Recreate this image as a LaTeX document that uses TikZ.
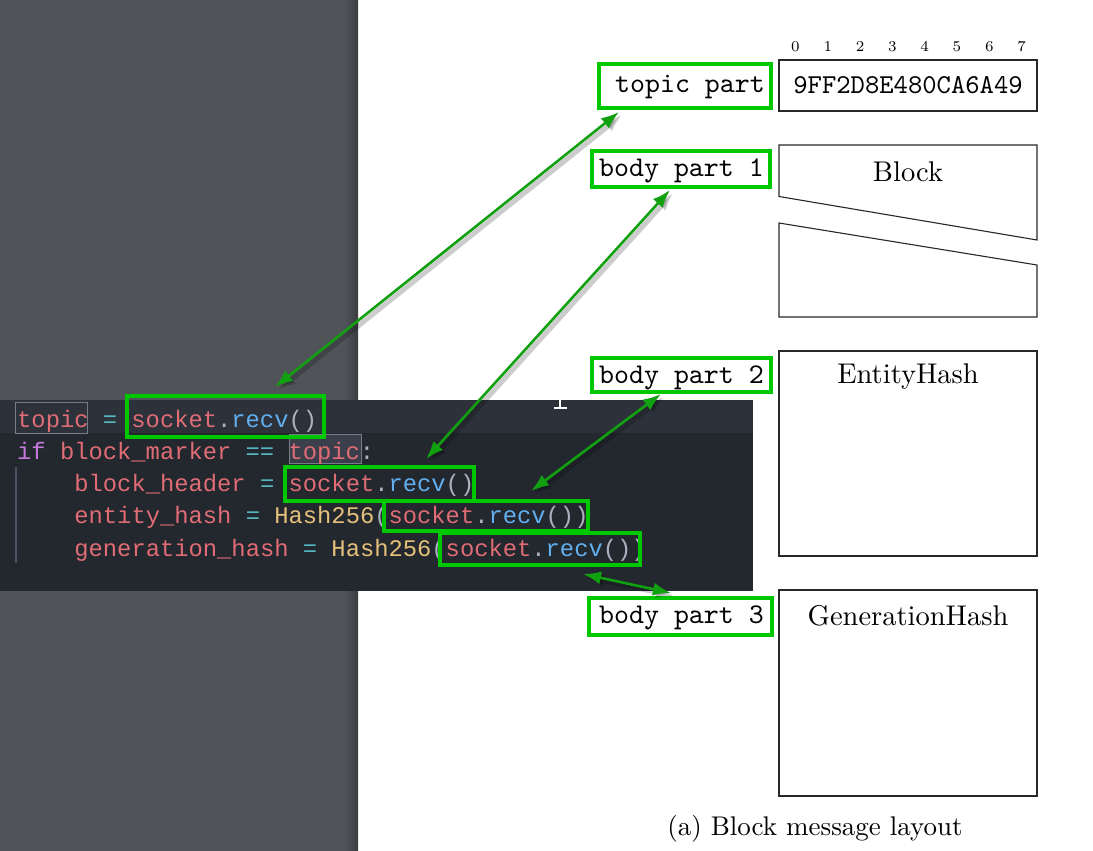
\documentclass[tikz,border=0pt]{standalone}
\usepackage{fontspec}
\newfontfamily\codefont{Liberation Mono}
\newfontfamily\tenrm{lmroman10-regular}[Extension=.otf]
\newfontfamily\sevenrm{lmroman7-regular}[Extension=.otf]
\newfontfamily\tentt{lmmono10-regular}[Extension=.otf]
\usetikzlibrary{arrows.meta,calc}
\definecolor{sidebar}{RGB}{80,84,88}
\definecolor{sidebardark}{RGB}{56,59,63}
\definecolor{edbg}{RGB}{35,39,46}
\definecolor{edline}{RGB}{45,49,58}
\definecolor{cred}{RGB}{224,108,117}
\definecolor{ccyan}{RGB}{86,182,194}
\definecolor{cblue}{RGB}{97,175,239}
\definecolor{cpurple}{RGB}{198,120,221}
\definecolor{cyellow}{RGB}{229,192,123}
\definecolor{cgrey}{RGB}{171,178,191}
\definecolor{hlbox}{RGB}{120,126,136}
\definecolor{hlfill}{RGB}{58,63,75}
\definecolor{guide}{RGB}{75,82,99}
\definecolor{boxgreen}{RGB}{0,200,0}
\definecolor{arrowgreen}{RGB}{16,160,16}
\definecolor{framegrey}{RGB}{40,40,40}
\begin{document}
\begin{tikzpicture}[x=1pt,y=-1pt,
  code/.style={anchor=base west,inner sep=0pt,font=\codefont\fontsize{23.8}{26}\selectfont},
  gbox/.style={draw=boxgreen,line width=4pt,inner sep=0pt},
  lbltext/.style={anchor=base,inner sep=0pt,font=\tentt\fontsize{28.5}{30}\selectfont},
  frame/.style={draw=framegrey,line width=1.1pt},
  serif/.style={anchor=base,inner sep=0pt,font=\tenrm\fontsize{28.5}{30}\selectfont},
  digit/.style={anchor=base,inner sep=0pt,font=\sevenrm\fontsize{15}{16}\selectfont},
  tipA/.tip={Latex[length=18pt,width=13pt]},
  link/.style={draw=arrowgreen,line width=2.6pt,tipA-tipA},
  linkshadow/.style={draw=black,opacity=0.2,line width=5pt,tipA-tipA},
  hl/.style={draw=hlbox,line width=1pt,inner sep=0pt}
]
\useasboundingbox (0,0) rectangle (1093,851);
\fill[white] (0,0) rectangle (1093,851);
% sidebar
\fill[sidebar] (0,0) rectangle (344,851);
\shade[left color=sidebar,right color=sidebardark] (344,0) rectangle (358,851);
% editor panel
\fill[edbg] (0,400) rectangle (753,591);
\fill[edline] (0,400) rectangle (753,433);
% highlight boxes of topic
\node[hl,minimum width=72pt,minimum height=31pt] (hl1) at (51,417.5) {};
\node[hl,fill=hlfill,minimum width=72pt,minimum height=29pt] (hl2) at (325,448.5) {};
% indent guide
\draw[guide,line width=1.2pt] (16,467) -- (16,563);
% code
\node[code] (l1) at (17,427) {{\color{cred}topic} {\color{ccyan}=} {\color{cred}socket}{\color{cgrey}.}{\color{cblue}recv}{\color{cgrey}()}};
\node[code] (l2) at (17,459.5) {{\color{cpurple}if} {\color{cred}block\_marker} {\color{ccyan}==} {\color{cred}topic}{\color{cgrey}:}};
\node[code] (l3) at (74.2,491.7) {{\color{cred}block\_header} {\color{ccyan}=} {\color{cred}socket}{\color{cgrey}.}{\color{cblue}recv}{\color{cgrey}()}};
\node[code] (l4) at (74.2,523.9) {{\color{cred}entity\_hash} {\color{ccyan}=} {\color{cyellow}Hash256}{\color{cgrey}(}{\color{cred}socket}{\color{cgrey}.}{\color{cblue}recv}{\color{cgrey}())}};
\node[code] (l5) at (74.2,556) {{\color{cred}generation\_hash} {\color{ccyan}=} {\color{cyellow}Hash256}{\color{cgrey}(}{\color{cred}socket}{\color{cgrey}.}{\color{cblue}recv}{\color{cgrey}())}};
% I-beam cursor
\draw[white,line width=1.6pt] (560,397) -- (560,408) (554,408) -- (567,408);
% green boxes in the code
\node[gbox,minimum width=197pt,minimum height=41pt] (r1) at (225.5,416.5) {};
\node[gbox,minimum width=189pt,minimum height=34pt] (r3) at (379.5,484) {};
\node[gbox,minimum width=204pt,minimum height=30pt] (r4) at (486,516) {};
\node[gbox,minimum width=200pt,minimum height=32pt] (r5) at (540,549) {};
% label boxes
\node[gbox,minimum width=172pt,minimum height=44pt] (tpbox) at (685,86) {};
\node[lbltext] (tptext) at (690,92.7) {topic part};
\node[gbox,minimum width=178pt,minimum height=36pt] (b1box) at (681,169) {};
\node[lbltext] (b1text) at (681.5,176.7) {body part 1};
\node[gbox,minimum width=179pt,minimum height=34pt] (b2box) at (681.5,375) {};
\node[lbltext] (b2text) at (681.5,383) {body part 2};
\node[gbox,minimum width=183pt,minimum height=37pt] (b3box) at (680.5,616.5) {};
\node[lbltext] (b3text) at (681.5,623) {body part 3};
% message layout
\foreach \i in {0,...,7} {
  \node[digit] (d\i) at ({795.5+32.3*\i},51.7) {\i};
}
\node[frame,minimum width=258pt,minimum height=51pt,inner sep=0pt] (vbox) at (908,85.5) {};
\node[lbltext,font=\tentt\fontsize{27.3}{29}\selectfont] (vtext) at (908,93.3) {9FF2D8E480CA6A49};
\draw[frame] (779,145) -- (1037,145) -- (1037,240) -- (779,196.5) -- cycle;
\draw[frame] (779,223) -- (1037,265) -- (1037,317) -- (779,317) -- cycle;
\node[serif] (blocktext) at (908,181.7) {Block};
\node[frame,minimum width=258pt,minimum height=205pt,inner sep=0pt] (ebox) at (908,453.5) {};
\node[serif] (etext) at (908,383) {EntityHash};
\node[frame,minimum width=258pt,minimum height=206pt,inner sep=0pt] (gbox2) at (908,693) {};
\node[serif] (gtext) at (908,625) {GenerationHash};
\node[anchor=base,inner sep=0pt,font=\tenrm\fontsize{27}{29}\selectfont] (caption) at (815,835) {(a) Block message layout};
% arrows (shadows first)
\draw[linkshadow] ([xshift=25pt,yshift=-5pt]tpbox.south west) -- ([xshift=153pt,yshift=4pt]r1.north west);
\draw[linkshadow] ([xshift=83pt,yshift=-4pt]b1box.south west) -- ([xshift=146pt,yshift=3pt]r3.north west);
\draw[linkshadow] ([xshift=74pt,yshift=-3pt]b2box.south west) -- ([xshift=152pt,yshift=5pt]r4.north west);
\draw[linkshadow] ([xshift=148pt,yshift=-10pt]r5.south west) -- ([xshift=87pt,yshift=0pt]b3box.north west);
\draw[link] ([xshift=22pt,yshift=-2pt]tpbox.south west) -- ([xshift=150pt,yshift=7pt]r1.north west);
\draw[link] ([xshift=80pt,yshift=-1pt]b1box.south west) -- ([xshift=143pt,yshift=6pt]r3.north west);
\draw[link] ([xshift=71pt]b2box.south west) -- ([xshift=149pt,yshift=8pt]r4.north west);
\draw[link] ([xshift=145pt,yshift=-7pt]r5.south west) -- ([xshift=84pt,yshift=3pt]b3box.north west);
\end{tikzpicture}
\end{document}
